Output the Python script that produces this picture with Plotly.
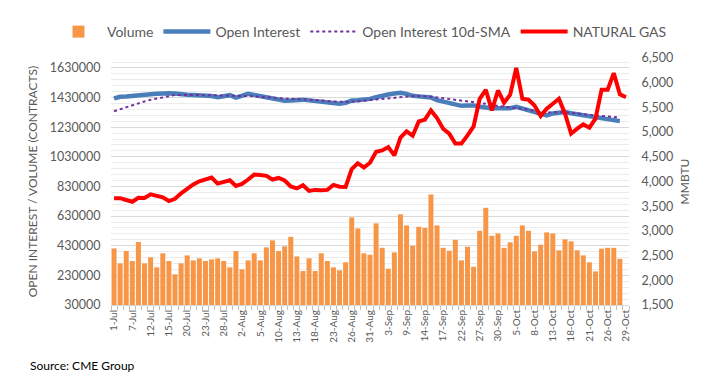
import plotly.graph_objects as go

jul = [1, 2, 6, 7, 8, 9, 12, 13, 14, 15, 16, 19, 20, 21, 22, 23, 26, 27, 28, 29, 30]
aug = [2, 3, 4, 5, 6, 9, 10, 11, 12, 13, 16, 17, 18, 19, 20, 23, 24, 25, 26, 27, 30, 31]
sep = [1, 2, 3, 7, 8, 9, 10, 13, 14, 15, 16, 17, 20, 21, 22, 23, 24, 27, 28, 29, 30]
oct_ = [1, 4, 5, 6, 7, 8, 11, 12, 13, 14, 15, 18, 19, 20, 21, 22, 25, 26, 27, 28, 29]

dates = ([f"{d}-Jul" for d in jul] + [f"{d}-Aug" for d in aug]
         + [f"{d}-Sep" for d in sep] + [f"{d}-Oct" for d in oct_])

volume = [412000, 311000, 394000, 327000, 455000, 311000, 352000, 284000, 379000, 327000,
          237000, 311000, 365000, 331000, 345000, 327000, 338000, 345000, 327000, 284000,
          394000, 271000, 331000, 379000, 331000, 419000, 466000, 394000, 426000, 490000,
          358000, 259000, 345000, 259000, 379000, 327000, 284000, 264000, 318000, 621000,
          547000, 379000, 369000, 581000, 416000, 275000, 385000, 642000, 567000, 430000,
          558000, 551000, 776000, 567000, 416000, 396000, 470000, 331000, 423000, 288000,
          531000, 686000, 497000, 513000, 416000, 453000, 497000, 567000, 531000, 392000,
          437000, 520000, 513000, 399000, 473000, 460000, 399000, 365000, 318000, 257000,
          410000, 416000, 416000, 342000]

open_interest = [1424000, 1435000, 1437000, 1439000, 1443000, 1448000, 1452000, 1455000, 1459000, 1459000,
                 1457000, 1451000, 1449000, 1448000, 1446000, 1447000, 1441000, 1433000, 1440000, 1446000,
                 1430000, 1440000, 1455000, 1448000, 1440000, 1432000, 1424000, 1410000, 1408000, 1410000,
                 1414000, 1416000, 1411000, 1408000, 1402000, 1400000, 1396000, 1389000, 1395000, 1410000,
                 1412000, 1415000, 1421000, 1432000, 1445000, 1451000, 1458000, 1462000, 1455000, 1442000,
                 1438000, 1434000, 1431000, 1412000, 1404000, 1394000, 1385000, 1374000, 1376000, 1377000,
                 1368000, 1360000, 1358000, 1358000, 1358000, 1358000, 1367000, 1355000, 1345000, 1330000,
                 1318000, 1309000, 1323000, 1328000, 1333000, 1324000, 1318000, 1314000, 1306000, 1302000,
                 1296000, 1288000, 1282000, 1271000]

oi_sma10 = [1338000, 1352000, 1366000, 1378000, 1391000, 1404000, 1415000, 1424000, 1432000, 1440000,
            1447000, 1448000, 1448000, 1448000, 1448000, 1448000, 1448000, 1445000, 1442000, 1440000,
            1440000, 1441000, 1441000, 1437000, 1434000, 1433000, 1430000, 1426000, 1424000, 1422000,
            1421000, 1419000, 1418000, 1417000, 1411000, 1406000, 1403000, 1399000, 1400000, 1401000,
            1402000, 1408000, 1413000, 1417000, 1422000, 1428000, 1433000, 1437000, 1440000, 1440000,
            1440000, 1440000, 1436000, 1431000, 1426000, 1421000, 1416000, 1411000, 1405000, 1399000,
            1394000, 1388000, 1379000, 1373000, 1368000, 1363000, 1358000, 1354000, 1349000, 1341000,
            1331000, 1328000, 1331000, 1333000, 1330000, 1327000, 1324000, 1318000, 1312000, 1309000,
            1307000, 1305000, 1300000, 1295000]

natural_gas = [3662, 3662, 3625, 3590, 3670, 3665, 3740, 3700, 3680, 3605,
               3650, 3760, 3860, 3940, 4005, 4050, 4080, 3958, 3990, 4025,
               3910, 3950, 4040, 4140, 4130, 4115, 4040, 4072, 4020, 3900,
               3860, 3924, 3809, 3830, 3825, 3830, 3931, 3895, 3890, 4250,
               4370, 4285, 4380, 4600, 4630, 4698, 4530, 4888, 5015, 4928,
               5217, 5251, 5439, 5284, 5069, 4968, 4767, 4767, 4934, 5116,
               5675, 5857, 5439, 5843, 5594, 5756, 6301, 5675, 5655, 5540,
               5324, 5473, 5574, 5675, 5372, 4968, 5069, 5156, 5089, 5271,
               5857, 5857, 6193, 5763, 5709]

left_ticks = list(range(30000, 1630001, 200000))
right_ticks = list(range(1500, 6501, 500))
tick_text = [d if i % 3 == 0 else "" for i, d in enumerate(dates)]

FONT = "Lato"
GREY = "#595959"

fig = go.Figure()
fig.add_trace(go.Bar(x=dates[:len(volume)], y=volume, name="Volume",
                     marker=dict(color="#F79646", line=dict(width=0)), yaxis="y"))
fig.add_trace(go.Scatter(x=dates[:len(open_interest)], y=open_interest, name="Open Interest",
                         mode="lines", line=dict(color="#4A7EBB", width=4.5), yaxis="y"))
fig.add_trace(go.Scatter(x=dates[:len(oi_sma10)], y=oi_sma10, name="Open Interest 10d-SMA",
                         mode="lines", line=dict(color="#7030A0", width=2, dash="dot"), yaxis="y"))
fig.add_trace(go.Scatter(x=dates, y=natural_gas, name="NATURAL GAS",
                         mode="lines", line=dict(color="#FF0000", width=4), yaxis="y2"))

# page has an 8px body margin; the figure is sized/offset to compensate
fig.update_layout(
    width=696, height=382,
    margin=dict(l=103, r=75, t=50, b=85, autoexpand=False),
    paper_bgcolor="white", plot_bgcolor="white",
    font=dict(family=FONT, color=GREY, size=11),
    bargap=0.18,
    showlegend=True,
    legend=dict(orientation="h", x=(50 - 111) / 518, xanchor="left",
                y=1 + 26 / 247, yanchor="middle",
                font=dict(size=14, color=GREY), traceorder="normal",
                itemwidth=47, bgcolor="rgba(0,0,0,0)"),
    xaxis=dict(type="category", categoryorder="array", categoryarray=dates,
               range=[-0.5, len(dates) - 0.5], automargin=False,
               tickmode="array", tickvals=dates, ticktext=tick_text, tickangle=-90,
               tickson="boundaries", ticks="outside", ticklen=4, tickcolor="#bfbfbf",
               showline=True, linecolor="#d9d9d9", showgrid=False,
               tickfont=dict(size=10, color=GREY)),
    yaxis=dict(range=[30000, 1697000], tickmode="array", tickvals=left_ticks,
               tickformat="d", showgrid=True, gridcolor="#d9d9d9", gridwidth=1,
               zeroline=False, showline=False, ticks="outside", ticklen=7,
               tickcolor="rgba(0,0,0,0)", automargin=False,
               minor=dict(dtick=40000, tick0=30000, showgrid=True, gridcolor="#ececec", gridwidth=1),
               tickfont=dict(size=12.5, color=GREY),
               title=dict(text="OPEN INTEREST / VOLUME (CONTRACTS)", font=dict(size=12, color=GREY),
                          standoff=9)),
    yaxis2=dict(range=[1500, 6500], overlaying="y", side="right", tickmode="array",
                tickvals=right_ticks, tickformat=",", showgrid=False, zeroline=False,
                ticks="outside", ticklen=9, tickcolor="rgba(0,0,0,0)",
                automargin=False,
                tickfont=dict(size=12.5, color=GREY),
                title=dict(text="MMBTU", font=dict(size=12, color=GREY), standoff=8)),
    annotations=[dict(text="Source: CME Group", xref="paper", yref="paper",
                      x=-(111 - 28) / 518, y=-(365 - 305) / 247, xanchor="left", yanchor="middle",
                      showarrow=False, font=dict(size=12, color="#000000", family=FONT))],
)

fig.write_html("out.html")
